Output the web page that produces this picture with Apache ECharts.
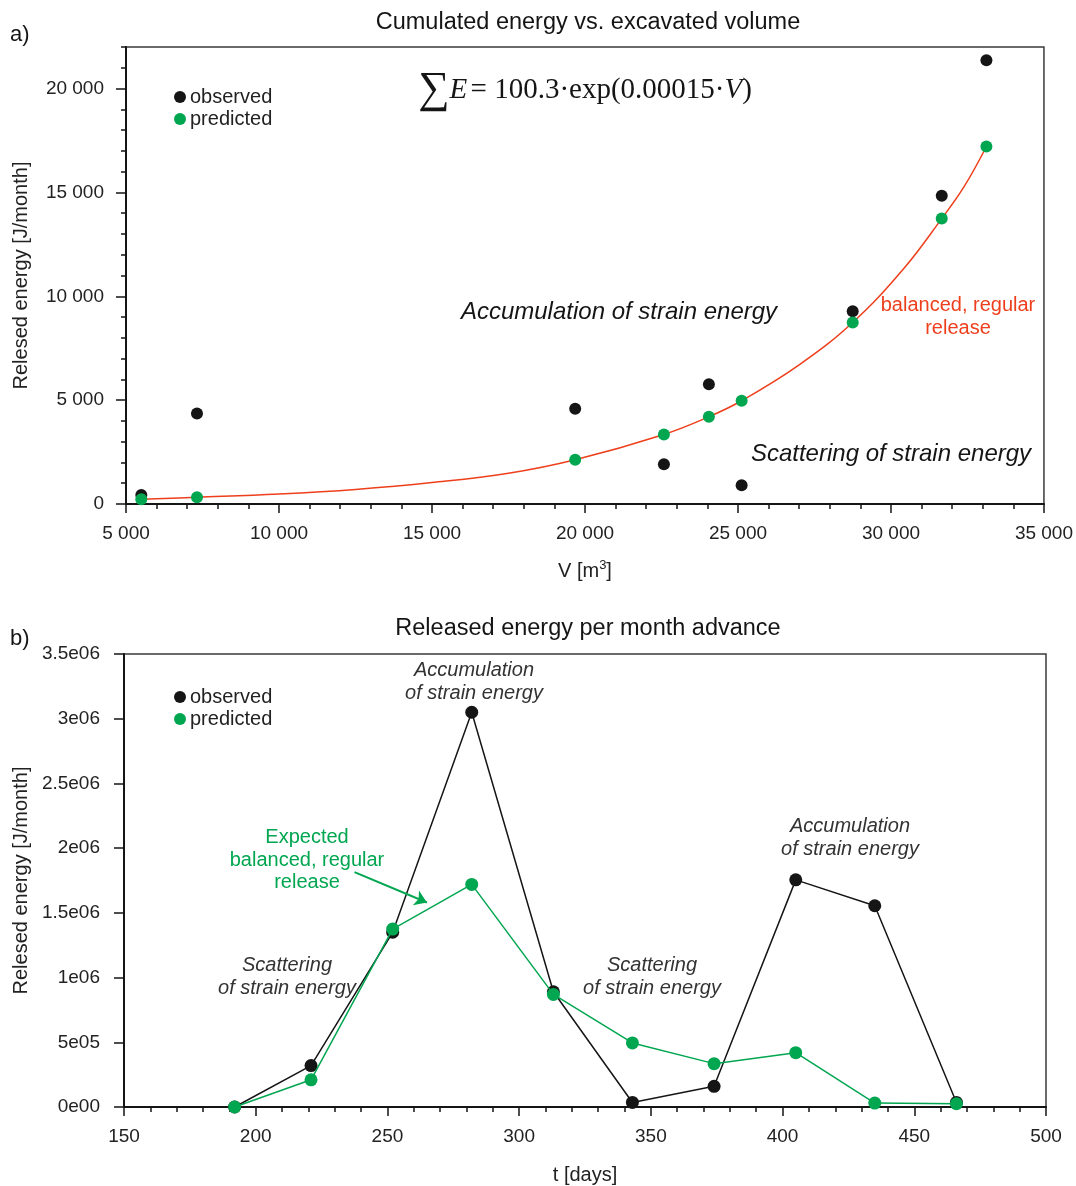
<!DOCTYPE html>
<html>
<head>
<meta charset="utf-8">
<title>Released energy vs. excavated volume and time</title>
<script src="https://cdn.jsdelivr.net/npm/echarts@6/dist/echarts.min.js"></script>
<style>
  html, body { margin: 0; padding: 0; background: #ffffff; width: 1076px; height: 1186px; overflow: hidden; }
  #chart { width: 1076px; height: 1186px; }
</style>
</head>
<body>
<div id="chart"></div>
<script>
// ---- a) cumulated energy vs. excavated volume ----
const volume      = [5500, 7320, 19680, 22580, 24050, 25120, 28750, 31660, 33120];
const observedCum = [430, 4360, 4580, 1910, 5770, 900, 9280, 14840, 21360];
const predictedCum = [226, 322, 2130, 3350, 4200, 4970, 8740, 13740, 17210];
// points
const fitVolume = [5500, 7320, 10000, 12500, 15000, 17500, 19680, 22580, 24050, 25120, 27000, 28750, 30400, 31660, 32400, 33120];
const fitEnergy = [226, 322, 480, 700, 1030, 1480, 2130, 3350, 4200, 4970, 6700, 8740, 11300, 13740, 15300, 17210];
const volumeTicks = ['5 000', '10 000', '15 000', '20 000', '25 000', '30 000', '35 000'];
const cumTicks = ['0', '5 000', '10 000', '15 000', '20 000'];

// ---- b) released energy per month advance ----
const days = [192, 221, 252, 282, 313, 343, 374, 405, 435, 466];
const observedMonth = [0, 320000, 1350000, 3050000, 890000, 35000, 160000, 1755000, 1555000, 35000];
const predictedMonth = [0, 210000, 1375000, 1720000, 870000, 495000, 335000, 420000, 30000, 25000];
const dayTicks = ['150', '200', '250', '300', '350', '400', '450', '500'];
const monthTicks = ['0e00', '5e05', '1e06', '1.5e06', '2e06', '2.5e06', '3e06', '3.5e06'];
// arrow pointing at the predicted curve (t, E)
const arrowFrom = [237.5, 1815000];
const arrowTo = [265, 1580000];

const SANS = '"Liberation Sans", Arial, "Noto Sans", sans-serif';
const SERIF = '"Liberation Serif", "DejaVu Serif", serif';
const GREEN = '#00a650';
const RED = '#ee3f1c';
const INK = '#151515';

const pairs = (xs, ys) => xs.map((x, i) => [x, ys[i]]);
const tickFormatter = (labels, min, step) => v => {
  const i = Math.round((v - min) / step);
  return (Math.abs(min + i * step - v) < step * 1e-6 && labels[i] !== undefined) ? labels[i] : '';
};

const axisLineStyle = { show: true, onZero: false, lineStyle: { color: INK, width: 2 } };
const tickStyle = { color: INK, width: 1.5 };
const labelStyle = { fontFamily: SANS, fontSize: 19, color: '#222' };
const nameStyle = { fontFamily: SANS, fontSize: 20, color: '#222' };

const chart = echarts.init(document.getElementById('chart'), null, { renderer: 'canvas', width: 1076, height: 1186 });

const option = {
  backgroundColor: '#ffffff',
  animation: false,
  grid: [
    { left: 126, top: 47, width: 919, height: 457, show: true, borderColor: '#3a3a3a', borderWidth: 1.5, containLabel: false },
    { left: 124, top: 654, width: 922, height: 461, show: true, borderColor: '#3a3a3a', borderWidth: 1.5, containLabel: false }
  ],
  xAxis: [
    {
      gridIndex: 0, type: 'value', min: 5000, max: 35000, interval: 5000,
      axisLine: axisLineStyle,
      axisTick: { show: true, length: 9, lineStyle: tickStyle },
      minorTick: { show: true, splitNumber: 5, length: 5, lineStyle: tickStyle },
      splitLine: { show: false },
      axisLabel: Object.assign({ margin: 20, showMinLabel: true, showMaxLabel: true,
        formatter: tickFormatter(volumeTicks, 5000, 5000) }, labelStyle),
      name: 'V [m{sup|3}]', nameLocation: 'middle', nameGap: 55,
      nameTextStyle: Object.assign({ rich: { sup: { fontFamily: SANS, fontSize: 13, color: '#222', padding: [0, 0, 11, 0] } } }, nameStyle)
    },
    {
      gridIndex: 1, type: 'value', min: 150, max: 500, interval: 50,
      axisLine: axisLineStyle,
      axisTick: { show: true, length: 9, lineStyle: tickStyle },
      minorTick: { show: true, splitNumber: 5, length: 5, lineStyle: tickStyle },
      splitLine: { show: false },
      axisLabel: Object.assign({ margin: 20, showMinLabel: true, showMaxLabel: true,
        formatter: tickFormatter(dayTicks, 150, 50) }, labelStyle),
      name: 't [days]', nameLocation: 'middle', nameGap: 58,
      nameTextStyle: nameStyle
    }
  ],
  yAxis: [
    {
      gridIndex: 0, type: 'value', min: 0, max: 22000, interval: 5000,
      axisLine: axisLineStyle,
      axisTick: { show: true, length: 10, lineStyle: tickStyle },
      splitLine: { show: false },
      axisLabel: Object.assign({ margin: 22, showMaxLabel: false,
        formatter: tickFormatter(cumTicks, 0, 5000) }, labelStyle),
      name: 'Relesed energy [J/month]', nameLocation: 'middle', nameGap: 95, nameRotate: 90,
      nameTextStyle: nameStyle
    },
    {
      // 1 000 J minor ticks on the left axis
      gridIndex: 0, type: 'value', position: 'left', min: 0, max: 22000, interval: 1000,
      axisLine: { show: false },
      axisTick: { show: true, length: 5, lineStyle: tickStyle },
      axisLabel: { show: false },
      splitLine: { show: false }
    },
    {
      gridIndex: 1, type: 'value', min: 0, max: 3500000, interval: 500000,
      axisLine: axisLineStyle,
      axisTick: { show: true, length: 10, lineStyle: tickStyle },
      splitLine: { show: false },
      axisLabel: Object.assign({ margin: 24, showMaxLabel: true,
        formatter: tickFormatter(monthTicks, 0, 500000) }, labelStyle),
      name: 'Relesed energy [J/month]', nameLocation: 'middle', nameGap: 93, nameRotate: 90,
      nameTextStyle: nameStyle
    }
  ],
  legend: [
    {
      data: ['observed', 'predicted'], orient: 'vertical', left: 169, top: 82, icon: 'circle',
      itemWidth: 12, itemHeight: 12, itemGap: 2, selectedMode: false,
      textStyle: { fontFamily: SANS, fontSize: 20, color: '#222', padding: [0, 0, 0, -1] }
    },
    {
      data: ['observed', 'predicted'], orient: 'vertical', left: 169, top: 682, icon: 'circle',
      itemWidth: 12, itemHeight: 12, itemGap: 2, selectedMode: false,
      textStyle: { fontFamily: SANS, fontSize: 20, color: '#222', padding: [0, 0, 0, -1] }
    }
  ],
  series: [
    {
      name: 'fit', type: 'line', xAxisIndex: 0, yAxisIndex: 0, smooth: 0.4,
      data: pairs(fitVolume, fitEnergy), showSymbol: false, silent: true,
      lineStyle: { color: RED, width: 1.5 }, z: 1
    },
    {
      name: 'observed', type: 'scatter', xAxisIndex: 0, yAxisIndex: 0,
      data: pairs(volume, observedCum), symbolSize: 12,
      itemStyle: { color: INK, opacity: 1 }, z: 2
    },
    {
      name: 'predicted', type: 'scatter', xAxisIndex: 0, yAxisIndex: 0,
      data: pairs(volume, predictedCum), symbolSize: 12,
      itemStyle: { color: GREEN, opacity: 1 }, z: 3
    },
    {
      name: 'observed', type: 'line', xAxisIndex: 1, yAxisIndex: 2,
      data: pairs(days, observedMonth), symbol: 'circle', symbolSize: 13, showSymbol: true,
      itemStyle: { color: INK }, lineStyle: { color: INK, width: 1.5 }, z: 2
    },
    {
      name: 'predicted', type: 'line', xAxisIndex: 1, yAxisIndex: 2,
      data: pairs(days, predictedMonth), symbol: 'circle', symbolSize: 13, showSymbol: true,
      itemStyle: { color: GREEN }, lineStyle: { color: GREEN, width: 1.5 }, z: 3,
      markLine: {
        silent: true, symbol: ['none', 'arrow'], symbolSize: 12,
        label: { show: false },
        lineStyle: { color: GREEN, width: 2, type: 'solid' },
        emphasis: { disabled: true },
        data: [[{ coord: arrowFrom }, { coord: arrowTo }]]
      }
    }
  ],
  graphic: [
    { type: 'text', x: 10, y: 35, style: { text: 'a)', font: '22px ' + SANS, fill: INK, textVerticalAlign: 'middle' } },
    { type: 'text', x: 10, y: 639, style: { text: 'b)', font: '22px ' + SANS, fill: INK, textVerticalAlign: 'middle' } },
    { type: 'text', x: 588, y: 23, style: { text: 'Cumulated energy vs. excavated volume', font: '23.5px ' + SANS, fill: INK, textAlign: 'center', textVerticalAlign: 'middle' } },
    { type: 'text', x: 588, y: 629, style: { text: 'Released energy per month advance', font: '23.5px ' + SANS, fill: INK, textAlign: 'center', textVerticalAlign: 'middle' } },
    {
      type: 'text', x: 585, y: 90,
      style: {
        text: '{s|∑}{i|E} {t|= 100.3·exp(0.00015·}{i|V}{t|)}',
        textAlign: 'center', textVerticalAlign: 'middle', fill: INK,
        rich: {
          s: { fontFamily: SERIF, fontSize: 44, fill: INK },
          i: { fontFamily: SERIF, fontSize: 29, fontStyle: 'italic', fill: INK },
          t: { fontFamily: SERIF, fontSize: 29, fill: INK }
        }
      }
    },
    { type: 'text', x: 619, y: 312, style: { text: 'Accumulation of strain energy', font: 'italic 24px ' + SANS, fill: INK, textAlign: 'center', textVerticalAlign: 'middle' } },
    { type: 'text', x: 891, y: 454, style: { text: 'Scattering of strain energy', font: 'italic 24px ' + SANS, fill: INK, textAlign: 'center', textVerticalAlign: 'middle' } },
    { type: 'text', x: 958, y: 317, style: { text: 'balanced, regular\nrelease', font: '20px ' + SANS, lineHeight: 23, fill: RED, textAlign: 'center', textVerticalAlign: 'middle' } },
    { type: 'text', x: 474, y: 682, style: { text: 'Accumulation\nof strain energy', font: 'italic 20px ' + SANS, lineHeight: 23, fill: '#333', textAlign: 'center', textVerticalAlign: 'middle' } },
    { type: 'text', x: 850, y: 838, style: { text: 'Accumulation\nof strain energy', font: 'italic 20px ' + SANS, lineHeight: 23, fill: '#333', textAlign: 'center', textVerticalAlign: 'middle' } },
    { type: 'text', x: 287, y: 977, style: { text: 'Scattering\nof strain energy', font: 'italic 20px ' + SANS, lineHeight: 23, fill: '#333', textAlign: 'center', textVerticalAlign: 'middle' } },
    { type: 'text', x: 652, y: 977, style: { text: 'Scattering\nof strain energy', font: 'italic 20px ' + SANS, lineHeight: 23, fill: '#333', textAlign: 'center', textVerticalAlign: 'middle' } },
    { type: 'text', x: 307, y: 860, style: { text: 'Expected\nbalanced, regular\nrelease', font: '20px ' + SANS, lineHeight: 22.5, fill: GREEN, textAlign: 'center', textVerticalAlign: 'middle' } }
  ]
};

chart.setOption(option);
</script>
</body>
</html>
